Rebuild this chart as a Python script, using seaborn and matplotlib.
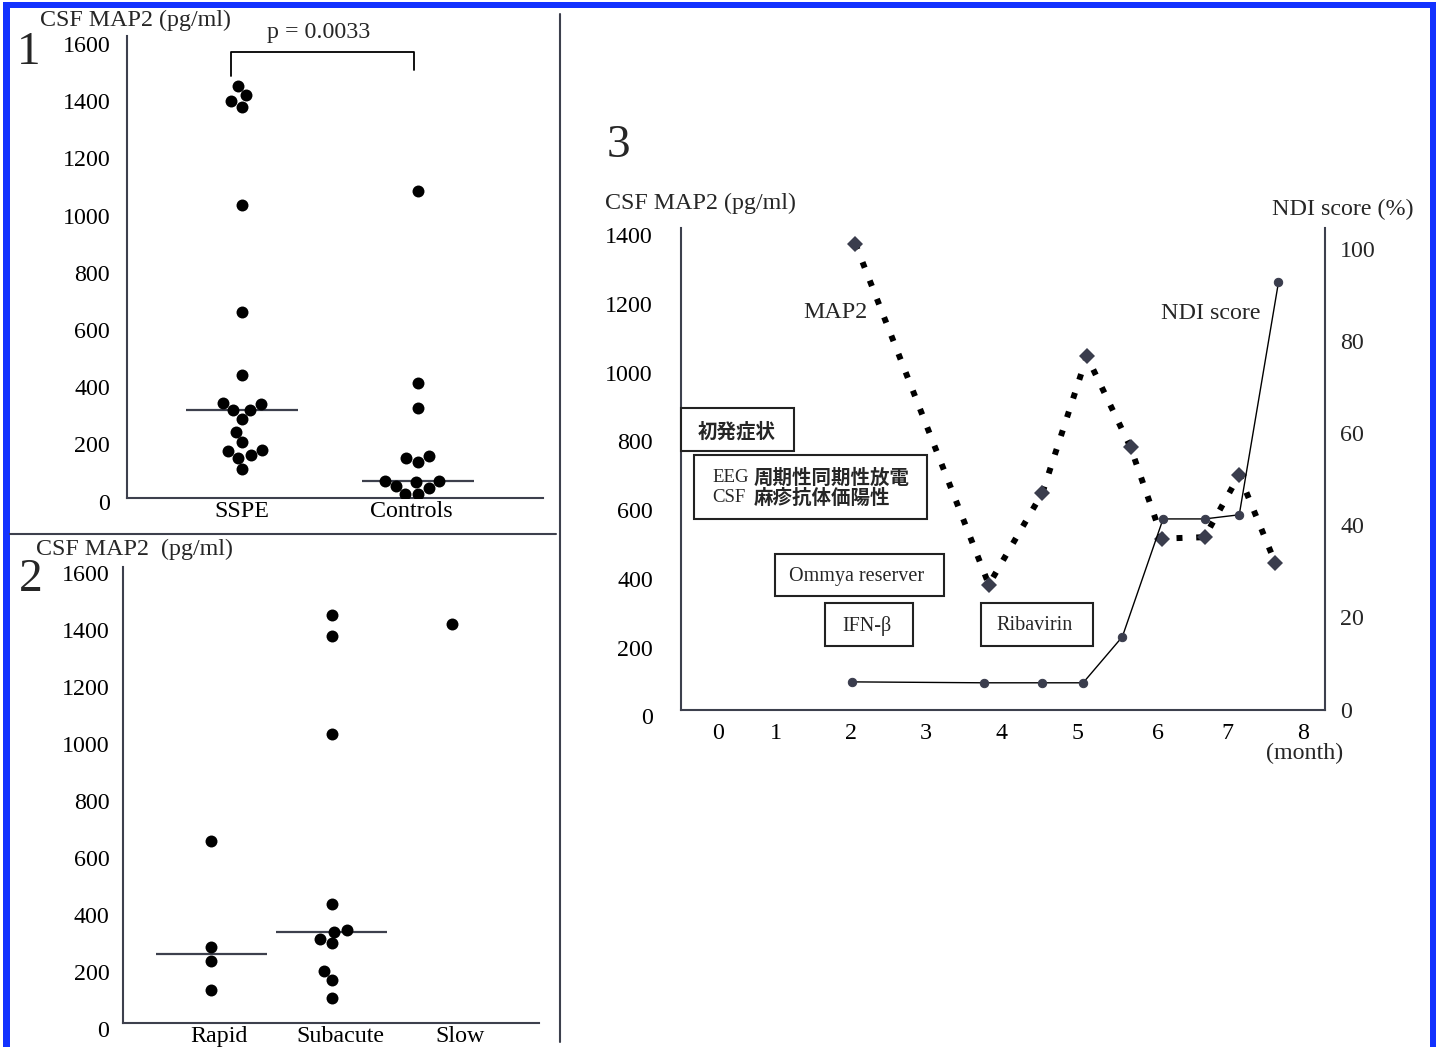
import numpy as np
import pandas as pd
import matplotlib
matplotlib.use('Agg')
import matplotlib.pyplot as plt
import matplotlib.transforms as mtransforms
from matplotlib.patches import Rectangle
from matplotlib.lines import Line2D
import seaborn as sns

# panel 1: CSF MAP2 (pg/ml), SSPE vs controls
sspe_vals = [1441, 1409, 1390, 1369, 1025, 650, 430, 333, 331, 310, 307, 278, 233, 197, 168, 164, 150, 141, 101]
control_vals = [1075, 404, 317, 148, 142, 128, 62, 62, 57, 44, 36, 16, 16]
groups1 = ['SSPE', 'Controls']
p_text = 'p = 0.0033'

# panel 2: by clinical course
rapid_vals = [638, 267, 219, 117]
subacute_vals = [1431, 1359, 1015, 419, 326, 321, 295, 280, 185, 152, 88]
slow_vals = [1400]
groups2 = ['Rapid', 'Subacute', 'Slow']

# panel 3: time course of one patient
map2_month = [2.06, 3.83, 4.54, 5.13, 5.71, 6.13, 6.69, 7.15, 7.63]
map2_vals = [1354, 363, 630, 1027, 762, 497, 501, 682, 425]
ndi_month = [2.02, 3.77, 4.53, 5.08, 5.60, 6.14, 6.69, 7.15, 7.67]
ndi_vals = [6.0, 5.8, 5.8, 5.8, 15.8, 41.4, 41.4, 42.3, 92.8]
month_ticks = list(range(9))
map2_ticks = list(range(0, 1401, 200))
ndi_ticks = list(range(0, 101, 20))

sns.set_style('white')
plt.rcParams['font.family'] = ['Liberation Serif', 'Noto Sans CJK JP']

W, H = 1440, 1047
AX_COL = '#3d404d'
DOT_COL = '#3a3d4d'
FS = 17.3

fig = plt.figure(figsize=(W / 100, H / 100), dpi=100)


def px_axes(l, t, r, b):
    return fig.add_axes([l / W, 1 - b / H, (r - l) / W, (b - t) / H])


def ftext(x, y, s, **kw):
    fig.text(x / W, 1 - y / H, s, **kw)


def frect(x0, y0, x1, y1, **kw):
    fig.add_artist(Rectangle((x0 / W, 1 - y1 / H), (x1 - x0) / W, (y1 - y0) / H,
                             transform=fig.transFigure, **kw))


def shift_labels(labels, dx=0, dy=0):
    off = mtransforms.ScaledTranslation(dx / 100, -dy / 100, fig.dpi_scale_trans)
    for lab in labels:
        lab.set_transform(lab.get_transform() + off)


def style_axes(ax):
    for side in ['top', 'right']:
        ax.spines[side].set_visible(False)
    for side in ['left', 'bottom']:
        ax.spines[side].set_color(AX_COL)
        ax.spines[side].set_linewidth(1.5)
    ax.tick_params(length=0, labelsize=FS, colors='black')
    ax.set_xlabel('')
    ax.set_ylabel('')


# ---------- panel 1 ----------
ax1 = px_axes(126.8, 35.5, 543, 498.3)
df1 = pd.DataFrame({
    'group': ['SSPE'] * len(sspe_vals) + ['Controls'] * len(control_vals),
    'value': sspe_vals + control_vals,
})
sns.swarmplot(data=df1, x='group', y='value', order=groups1, color='black', size=8.6, ax=ax1)
for i, vals in enumerate([sspe_vals, control_vals]):
    ax1.hlines(np.median(vals), i - 0.318, i + 0.318, color=AX_COL, lw=1.6, zorder=1)
ax1.set_ylim(0, 1618)
ax1.set_xlim(-0.6545, 1.71)
ax1.set_yticks(list(range(0, 1601, 200)))
style_axes(ax1)
ax1.tick_params(axis='y', pad=12)
ax1.tick_params(axis='x', pad=2)
shift_labels(ax1.get_yticklabels(), dy=3.4)
shift_labels(ax1.get_xticklabels()[1:], dx=-7)
# significance bracket
ax1.plot([-0.06, -0.06, 0.979, 0.979], [1476, 1561, 1561, 1497], color='black', lw=1.3, clip_on=False)
ax1.text(0.4375, 1627, p_text, ha='center', va='center', fontsize=FS, clip_on=False)
ftext(40, 20, 'CSF MAP2 (pg/ml)', ha='left', va='center', fontsize=FS)
ftext(17, 53, '1', ha='left', va='center', fontsize=34)

# ---------- panel 2 ----------
ax2 = px_axes(123.2, 567, 538.6, 1023.3)
df2 = pd.DataFrame({
    'group': ['Rapid'] * len(rapid_vals) + ['Subacute'] * len(subacute_vals) + ['Slow'] * len(slow_vals),
    'value': rapid_vals + subacute_vals + slow_vals,
})
sns.swarmplot(data=df2, x='group', y='value', order=groups2, color='black', size=8.6, ax=ax2)
for i, vals in enumerate([rapid_vals, subacute_vals, slow_vals]):
    if len(vals) > 1:
        ax2.hlines(np.median(vals), i - 0.46, i + 0.46, color=AX_COL, lw=1.6, zorder=1)
ax2.set_ylim(0, 1600)
ax2.set_xlim(-0.732, 2.715)
ax2.set_yticks(list(range(0, 1601, 200)))
style_axes(ax2)
ax2.tick_params(axis='y', pad=10)
ax2.tick_params(axis='x', pad=2)
shift_labels(ax2.get_yticklabels(), dy=5.7)
shift_labels(ax2.get_xticklabels(), dx=8)
ftext(36, 549, 'CSF MAP2  (pg/ml)', ha='left', va='center', fontsize=FS)
ftext(19, 580, '2', ha='left', va='center', fontsize=34)

# ---------- panel 3 ----------
ax3 = px_axes(680.6, 228, 1325, 709.5)
sns.lineplot(x=map2_month, y=map2_vals, ax=ax3, color='black', linewidth=4.3,
             linestyle=(0, (1, 2.3)), marker='D', markersize=8,
             markerfacecolor=DOT_COL, markeredgecolor=DOT_COL, markeredgewidth=0)
ax3.set_xlim(-0.257, 8.287)
ax3.set_ylim(0, 1396)
ax3.set_xticks(month_ticks)
ax3.set_yticks(map2_ticks)
style_axes(ax3)
ax3.tick_params(axis='y', pad=20)
ax3.tick_params(axis='x', pad=10)
shift_labels(ax3.get_yticklabels(), dy=7)
shift_labels(ax3.get_xticklabels()[:1], dx=18)
shift_labels(ax3.get_xticklabels()[6:7], dx=5)

ax3r = ax3.twinx()
sns.lineplot(x=ndi_month, y=ndi_vals, ax=ax3r, color='black', linewidth=1.0,
             marker='o', markersize=6, markerfacecolor=DOT_COL, markeredgecolor=DOT_COL)
ax3r.set_ylim(0, 104.6)
ax3r.set_yticks(ndi_ticks)
for side in ['top', 'left', 'bottom']:
    ax3r.spines[side].set_visible(False)
ax3r.spines['right'].set_color(AX_COL)
ax3r.spines['right'].set_linewidth(1.5)
ax3r.tick_params(length=0, labelsize=FS, pad=11)
ax3r.set_ylabel('')

ftext(607, 146, '3', ha='left', va='center', fontsize=34)
ftext(605, 203, 'CSF MAP2 (pg/ml)', ha='left', va='center', fontsize=FS)
ftext(1413, 209, 'NDI score (%)', ha='right', va='center', fontsize=FS)
ftext(835, 313, 'MAP2', ha='center', va='center', fontsize=FS)
ftext(1211, 314, 'NDI score', ha='center', va='center', fontsize=FS)
ftext(1305, 753, '(month)', ha='center', va='center', fontsize=FS)

# treatment / event boxes
box_kw = dict(facecolor='white', edgecolor='#222222', lw=1.5)
frect(680.7, 408.5, 794.4, 451.3, **box_kw)
frect(694, 455, 927, 519, **box_kw)
frect(775, 554, 943.7, 596, **box_kw)
frect(825, 603.4, 912.6, 645.9, **box_kw)
frect(980.8, 603.4, 1093, 645.9, **box_kw)
jp = dict(family=['Noto Sans CJK JP'], fontweight='bold', fontsize=14, va='center')
ftext(737, 432, '初発症状', ha='center', **jp)
ftext(712, 478, 'EEG', ha='left', va='center', fontsize=13.5)
ftext(754, 478, '周期性同期性放電', ha='left', **jp)
ftext(712, 498, 'CSF', ha='left', va='center', fontsize=13.5)
ftext(754, 498, '麻疹抗体価陽性', ha='left', **jp)
ftext(857, 576, 'Ommya reserver', ha='center', va='center', fontsize=14.5)
ftext(867, 626, 'IFN-β', ha='center', va='center', fontsize=14.5)
ftext(1035, 626, 'Ribavirin', ha='center', va='center', fontsize=14.5)

# panel dividers
fig.add_artist(Line2D([10 / W, 556 / W], [1 - 534 / H, 1 - 534 / H], transform=fig.transFigure,
                      color=AX_COL, lw=1.5))
fig.add_artist(Line2D([560 / W, 560 / W], [1 - 14 / H, 1 - 1042 / H], transform=fig.transFigure,
                      color=AX_COL, lw=1.5))

# blue frame
blue = '#1232ff'
frect(3, 2, 1436, 8, facecolor=blue, edgecolor='none')
frect(3, 2, 10, 1047, facecolor=blue, edgecolor='none')
frect(1430, 2, 1436, 1047, facecolor=blue, edgecolor='none')

fig.savefig('out.png', dpi=100)
